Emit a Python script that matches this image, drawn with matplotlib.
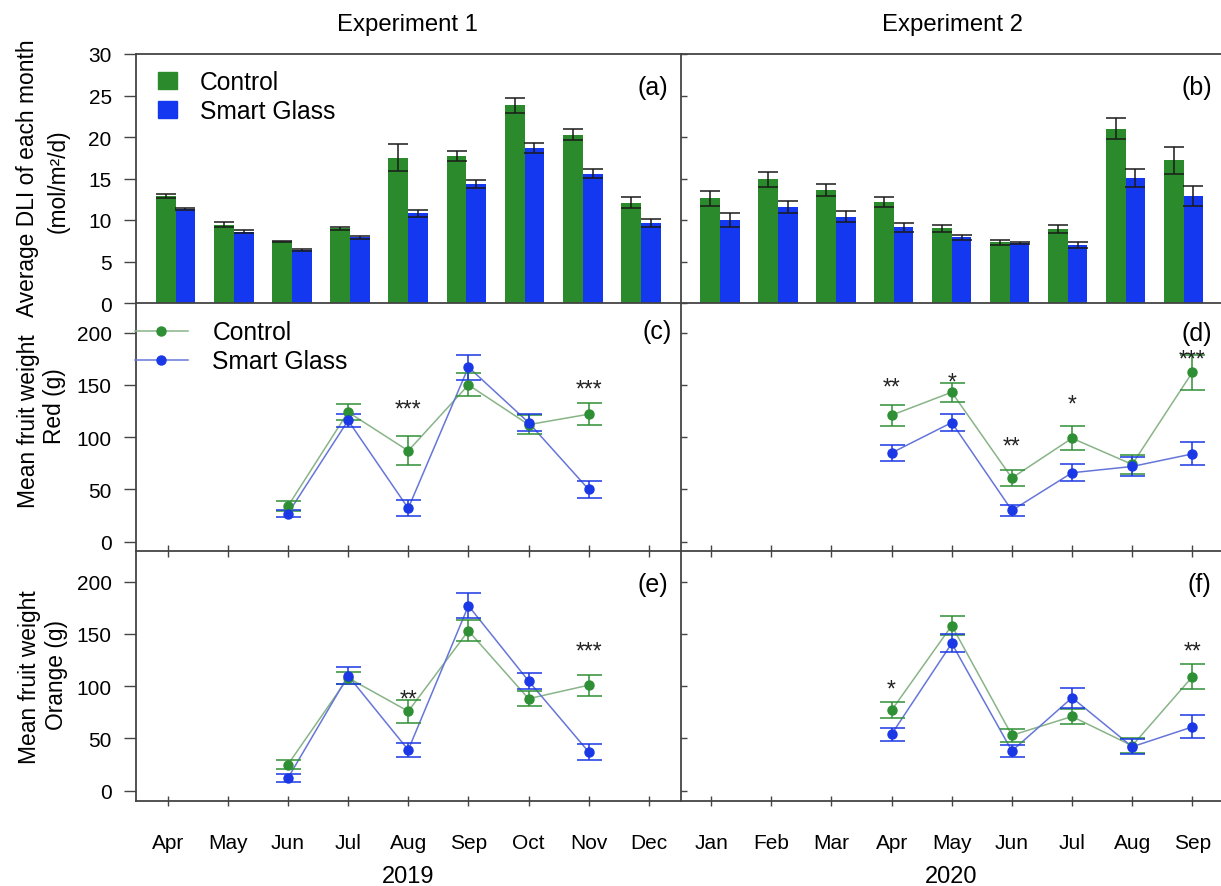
import matplotlib.pyplot as plt
from matplotlib.lines import Line2D
from matplotlib.patches import Patch

plt.rcParams['font.family'] = ['Liberation Sans', 'DejaVu Sans']

# Months shown in each experiment
months_2019 = ['Apr', 'May', 'Jun', 'Jul', 'Aug', 'Sep', 'Oct', 'Nov', 'Dec']
months_2020 = ['Jan', 'Feb', 'Mar', 'Apr', 'May', 'Jun', 'Jul', 'Aug', 'Sep']

# Monthly average DLI (mol/m2/d) with SE
dli_ctrl_2019 = [12.9, 9.4, 7.4, 9.0, 17.5, 17.7, 23.8, 20.3, 12.1]
dli_ctrl_2019_se = [0.2, 0.3, 0.1, 0.2, 1.6, 0.6, 0.9, 0.7, 0.7]
dli_sg_2019 = [11.3, 8.6, 6.4, 7.9, 10.8, 14.3, 18.7, 15.6, 9.6]
dli_sg_2019_se = [0.15, 0.15, 0.1, 0.15, 0.4, 0.5, 0.6, 0.5, 0.5]

dli_ctrl_2020 = [12.6, 14.9, 13.6, 12.2, 9.0, 7.3, 8.9, 21.0, 17.2]
dli_ctrl_2020_se = [0.9, 0.9, 0.7, 0.6, 0.4, 0.35, 0.5, 1.3, 1.6]
dli_sg_2020 = [10.0, 11.6, 10.4, 9.1, 7.9, 7.2, 7.0, 15.1, 12.9]
dli_sg_2020_se = [0.8, 0.7, 0.7, 0.5, 0.3, 0.15, 0.4, 1.1, 1.2]

# Harvest months with fruit data
harvest_2019 = ['Jun', 'Jul', 'Aug', 'Sep', 'Oct', 'Nov']
harvest_2020 = ['Apr', 'May', 'Jun', 'Jul', 'Aug', 'Sep']

# Mean fruit weight (g), red fruit
red_ctrl_2019 = [34, 124, 87, 150, 112, 122]
red_ctrl_2019_se = [5, 8, 14, 11, 9, 10.5]
red_sg_2019 = [27, 116, 32, 167, 114, 50]
red_sg_2019_se = [3, 6, 7.5, 12, 8, 8]

red_ctrl_2020 = [121, 143, 61, 99, 74, 162]
red_ctrl_2020_se = [10, 9, 7.5, 11.5, 9, 17]
red_sg_2020 = [85, 114, 30, 66, 72, 84]
red_sg_2020_se = [7.5, 8.5, 5.5, 8, 9, 11]

# Mean fruit weight (g), orange fruit
orange_ctrl_2019 = [25, 108, 76, 153, 88, 101]
orange_ctrl_2019_se = [4, 6, 11, 10, 7, 10]
orange_sg_2019 = [12, 110, 39, 177, 105, 37]
orange_sg_2019_se = [4, 8, 7, 12, 7.5, 7.3]

orange_ctrl_2020 = [77, 158, 53, 71, 43, 109]
orange_ctrl_2020_se = [7.6, 9, 6.5, 7.6, 7, 12]
orange_sg_2020 = [54, 141, 38, 89, 42, 61]
orange_sg_2020_se = [6, 8.5, 6, 9.6, 7, 11]

# Significance marks: (month, label, height)
sig_red_2019 = [('Aug', '***', 133), ('Nov', '***', 152)]
sig_red_2020 = [('Apr', '**', 154), ('May', '*', 159), ('Jun', '**', 98),
                ('Jul', '*', 138), ('Sep', '***', 181)]
sig_orange_2019 = [('Aug', '**', 94), ('Nov', '***', 140)]
sig_orange_2020 = [('Apr', '*', 104), ('Sep', '**', 140)]

bar_green = '#2b8a2b'
bar_blue = '#1437f0'
pt_green = '#2f8f35'
pt_blue = '#1a38e6'
ln_green = '#88b488'
ln_blue = '#6676d8'
spine_col = '#444444'

W, H = 1221, 887
fig = plt.figure(figsize=(W / 100, H / 100), dpi=100)


def px_axes(x0, y0, x1, y1):
    return fig.add_axes([x0 / W, 1 - y1 / H, (x1 - x0) / W, (y1 - y0) / H])


cols = [(136, 680.5), (680.5, 1223)]
rows = [(55, 304), (304, 552.3), (552.3, 801.7)]
axes = [[px_axes(c[0], r[0], c[1], r[1]) for c in cols] for r in rows]

for row in axes:
    for j, ax in enumerate(row):
        ax.set_facecolor('none')
        for s in ax.spines.values():
            s.set_color(spine_col)
            s.set_linewidth(1.3)
        ax.spines['right'].set_visible(False)
        ax.spines['top'].set_visible(False)
        if j == 0:
            ax.tick_params(axis='y', direction='out', length=8.5, width=1,
                           color=spine_col, labelsize=15, pad=9)
        else:
            ax.tick_params(axis='y', direction='in', length=4, width=1,
                           color=spine_col, labelleft=False)

# ---- DLI bars ----
bw = 0.34
bar_sets = [(months_2019, dli_ctrl_2019, dli_ctrl_2019_se, dli_sg_2019, dli_sg_2019_se),
            (months_2020, dli_ctrl_2020, dli_ctrl_2020_se, dli_sg_2020, dli_sg_2020_se)]
for ax, (mon, c, ce, s, se) in zip(axes[0], bar_sets):
    x = list(range(len(mon)))
    ax.bar([i - bw / 2 for i in x], c, bw, color=bar_green, label='Control', zorder=2)
    ax.bar([i + bw / 2 for i in x], s, bw, color=bar_blue, label='Smart Glass', zorder=2)
    ax.errorbar([i - bw / 2 for i in x], c, yerr=ce, fmt='none', ecolor='#1a1a1a',
                elinewidth=1.1, capsize=7, capthick=1.1, zorder=3)
    ax.errorbar([i + bw / 2 for i in x], s, yerr=se, fmt='none', ecolor='#1a1a1a',
                elinewidth=1.1, capsize=7, capthick=1.1, zorder=3)
    ax.set_ylim(0, 30)
    ax.set_xlim(-0.68, 8.68)
    ax.spines['top'].set_visible(True)
    ax.tick_params(axis='x', bottom=False, labelbottom=False)
    ax.set_yticks([0, 5, 10, 15, 20, 25, 30])

axes[0][0].legend(handles=[Patch(color=bar_green, label='Control'),
                           Patch(color=bar_blue, label='Smart Glass')],
                  loc='upper left', bbox_to_anchor=(0.04, 0.935), frameon=False,
                  fontsize=17.7, handlelength=0.8, handleheight=0.7,
                  handletextpad=0.9, labelspacing=0.2, borderpad=0, borderaxespad=0)

# ---- fruit weight lines ----
line_sets = [
    (axes[1][0], months_2019, harvest_2019, red_ctrl_2019, red_ctrl_2019_se,
     red_sg_2019, red_sg_2019_se, sig_red_2019),
    (axes[1][1], months_2020, harvest_2020, red_ctrl_2020, red_ctrl_2020_se,
     red_sg_2020, red_sg_2020_se, sig_red_2020),
    (axes[2][0], months_2019, harvest_2019, orange_ctrl_2019, orange_ctrl_2019_se,
     orange_sg_2019, orange_sg_2019_se, sig_orange_2019),
    (axes[2][1], months_2020, harvest_2020, orange_ctrl_2020, orange_ctrl_2020_se,
     orange_sg_2020, orange_sg_2020_se, sig_orange_2020),
]
for ax, mon, harv, c, ce, s, se, sig in line_sets:
    x = [mon.index(m) for m in harv]
    ax.plot(x, c, color=ln_green, lw=1.1, zorder=2)
    ax.plot(x, s, color=ln_blue, lw=1.1, zorder=2)
    ax.errorbar(x, c, yerr=ce, fmt='o', color=pt_green, ms=6.5, elinewidth=1.1,
                capsize=9, capthick=1.1, zorder=3)
    ax.errorbar(x, s, yerr=se, fmt='o', color=pt_blue, ms=6.5, elinewidth=1.1,
                capsize=9, capthick=1.1, zorder=3)
    for m, lab, yv in sig:
        ax.annotate(lab, (mon.index(m), yv), xytext=(0, -9.5), textcoords='offset points',
                    ha='center', va='baseline', fontsize=16.5, color='#222222')
    left = ax in (axes[1][0], axes[2][0])
    ax.set_xlim(-0.525 if left else -0.51, 8.525 if left else 8.51)
    ax.set_xticks(range(len(mon)))
    ax.set_yticks([0, 50, 100, 150, 200])

axes[1][0].set_ylim(-9.1, 228.3)
axes[1][1].set_ylim(-9.1, 228.3)
axes[2][0].set_ylim(-9.6, 229.1)
axes[2][1].set_ylim(-9.6, 229.1)

for ax in axes[1]:
    ax.tick_params(axis='x', direction='inout', length=9, width=1, color=spine_col,
                   labelbottom=False)
for ax, mon in zip(axes[2], [months_2019, months_2020]):
    ax.tick_params(axis='x', direction='inout', length=7, width=1, color=spine_col,
                   labelsize=15, pad=20)
    ax.set_xticklabels(mon)

axes[1][0].legend(handles=[Line2D([], [], color=ln_green, marker='o', mfc=pt_green,
                                  mec=pt_green, ms=6.5, lw=1.1, label='Control'),
                           Line2D([], [], color=ln_blue, marker='o', mfc=pt_blue,
                                  mec=pt_blue, ms=6.5, lw=1.1, label='Smart Glass')],
                  loc='upper left', bbox_to_anchor=(-0.002, 0.93), frameon=False,
                  fontsize=17.7, handlelength=2.15, handletextpad=1.0,
                  labelspacing=0.2, borderpad=0, borderaxespad=0)

# panel letters
letters = [(axes[0][0], '(a)', 0.949, 0.867), (axes[0][1], '(b)', 0.952, 0.867),
           (axes[1][0], '(c)', 0.957, 0.887), (axes[1][1], '(d)', 0.952, 0.878),
           (axes[2][0], '(e)', 0.949, 0.869), (axes[2][1], '(f)', 0.956, 0.869)]
for ax, t, xf, yf in letters:
    ax.text(xf, yf, t, transform=ax.transAxes, ha='center', va='center', fontsize=18)

# titles, years and y labels
fig.text(407 / W, 1 - 25 / H, 'Experiment 1', ha='center', va='center', fontsize=17.2)
fig.text(952 / W, 1 - 25 / H, 'Experiment 2', ha='center', va='center', fontsize=17.2)
fig.text(408 / W, 1 - 877 / H, '2019', ha='center', va='center', fontsize=17)
fig.text(951 / W, 1 - 877 / H, '2020', ha='center', va='center', fontsize=17)

ylabels = [('Average DLI of each month', 28, 178), ('(mol/m²/d)', 58, 181),
           ('Mean fruit weight', 29, 421), ('Red (g)', 55, 406),
           ('Mean fruit weight', 30, 677), ('Orange (g)', 57, 675)]
for t, xp, yp in ylabels:
    fig.text(xp / W, 1 - yp / H, t, rotation=90, ha='center', va='center', fontsize=16.4)

fig.savefig('out.png', dpi=100)
